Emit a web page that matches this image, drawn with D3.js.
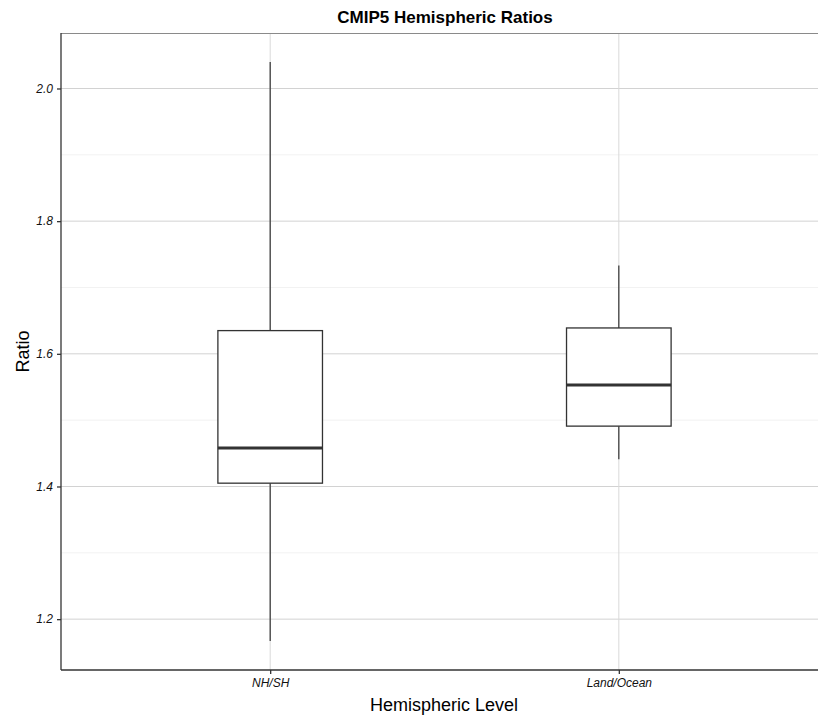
<!DOCTYPE html>
<html>
<head>
<meta charset="utf-8">
<script src="https://cdn.jsdelivr.net/npm/d3@7"></script>
<style>
  body { margin: 0; background: #fff; }
  svg { display: block; font-family: "Liberation Sans", Arial, sans-serif; }
</style>
</head>
<body>
<svg id="chart" width="818" height="717"></svg>
<script>
// box stats per category
const categories = ["NH/SH", "Land/Ocean"];
const whiskerLow = [1.167, 1.441];
const q1 = [1.405, 1.491];
const median = [1.458, 1.553];
const q3 = [1.635, 1.639];
const whiskerHigh = [2.040, 1.733];
const yTicks = [1.2, 1.4, 1.6, 1.8, 2.0];
const yMinor = [1.3, 1.5, 1.7, 1.9];

const margin = { top: 33, right: -10, bottom: 47, left: 61 };
const width = 818 - margin.left - margin.right;
const height = 717 - margin.top - margin.bottom;

const svg = d3.select("#chart");
const g = svg.append("g").attr("transform", `translate(${margin.left},${margin.top})`);

// discrete scale with ggplot-like 0.6 expansion on each side
const step = width / (categories.length - 1 + 1.2);
const x = d3.scalePoint()
  .domain(categories)
  .range([0.6 * step, width - 0.6 * step]);

const lo = d3.min(whiskerLow), hi = d3.max(whiskerHigh);
const pad = (hi - lo) * 0.05;
const y = d3.scaleLinear().domain([lo - pad, hi + pad]).range([height, 0]);

// minor grid
g.selectAll(".minor").data(yMinor).enter().append("line")
  .attr("x1", 0).attr("x2", width)
  .attr("y1", d => y(d)).attr("y2", d => y(d))
  .attr("stroke", "#f2f2f2").attr("stroke-width", 1);

// major grid
g.selectAll(".major").data(yTicks).enter().append("line")
  .attr("x1", 0).attr("x2", width)
  .attr("y1", d => y(d)).attr("y2", d => y(d))
  .attr("stroke", "#d2d2d2").attr("stroke-width", 1);

g.selectAll(".vgrid").data(categories).enter().append("line")
  .attr("x1", d => x(d)).attr("x2", d => x(d))
  .attr("y1", 0).attr("y2", height)
  .attr("stroke", "#d9d9d9").attr("stroke-width", 1);

// top border
g.append("line").attr("x1", 0).attr("x2", width).attr("y1", 0.5).attr("y2", 0.5)
  .attr("stroke", "#8a8a8a").attr("stroke-width", 1);

// boxes
const boxW = step * 0.3;
const stats = categories.map((c, i) => ({
  c, lo: whiskerLow[i], q1: q1[i], med: median[i], q3: q3[i], hi: whiskerHigh[i]
}));

const box = g.selectAll(".box").data(stats).enter().append("g").attr("class", "box");

box.append("line")
  .attr("x1", d => x(d.c)).attr("x2", d => x(d.c))
  .attr("y1", d => y(d.hi)).attr("y2", d => y(d.q3))
  .attr("stroke", "#333").attr("stroke-width", 1.2);

box.append("line")
  .attr("x1", d => x(d.c)).attr("x2", d => x(d.c))
  .attr("y1", d => y(d.q1)).attr("y2", d => y(d.lo))
  .attr("stroke", "#333").attr("stroke-width", 1.2);

box.append("rect")
  .attr("x", d => x(d.c) - boxW / 2)
  .attr("y", d => y(d.q3))
  .attr("width", boxW)
  .attr("height", d => y(d.q1) - y(d.q3))
  .attr("fill", "#fff")
  .attr("stroke", "#333").attr("stroke-width", 1.3);

box.append("line")
  .attr("x1", d => x(d.c) - boxW / 2).attr("x2", d => x(d.c) + boxW / 2)
  .attr("y1", d => y(d.med)).attr("y2", d => y(d.med))
  .attr("stroke", "#333").attr("stroke-width", 3);

// axes
const yAxis = g.append("g")
  .call(d3.axisLeft(y).tickValues(yTicks).tickSize(4).tickSizeOuter(0).tickPadding(4).tickFormat(d3.format(".1f")));
yAxis.select(".domain").remove();
yAxis.selectAll(".tick line").attr("stroke", "#333").attr("stroke-width", 1.3);
yAxis.selectAll("text").attr("fill", "#111").style("font-size", "12px").style("font-style", "italic");

const xAxis = g.append("g")
  .attr("transform", `translate(0,${height})`)
  .call(d3.axisBottom(x).tickSize(4).tickSizeOuter(0).tickPadding(4));
xAxis.select(".domain").remove();
xAxis.selectAll(".tick line").attr("stroke", "#333").attr("stroke-width", 1.3);
xAxis.selectAll("text").attr("fill", "#111").style("font-size", "12px").style("font-style", "italic");

// axis lines across the full panel
g.append("line").attr("x1", 0).attr("x2", 0).attr("y1", 0).attr("y2", height)
  .attr("stroke", "#333").attr("stroke-width", 1.3);
g.append("line").attr("x1", 0).attr("x2", width).attr("y1", height).attr("y2", height)
  .attr("stroke", "#333").attr("stroke-width", 1.3);

// labels
svg.append("text")
  .attr("x", 445).attr("y", 23)
  .attr("text-anchor", "middle")
  .style("font-size", "17px").style("font-weight", "bold")
  .text("CMIP5 Hemispheric Ratios");

svg.append("text")
  .attr("x", 444).attr("y", 711)
  .attr("text-anchor", "middle")
  .style("font-size", "18px")
  .text("Hemispheric Level");

svg.append("text")
  .attr("transform", `translate(29,${margin.top + height / 2}) rotate(-90)`)
  .attr("text-anchor", "middle")
  .style("font-size", "18px")
  .text("Ratio");
</script>
</body>
</html>
